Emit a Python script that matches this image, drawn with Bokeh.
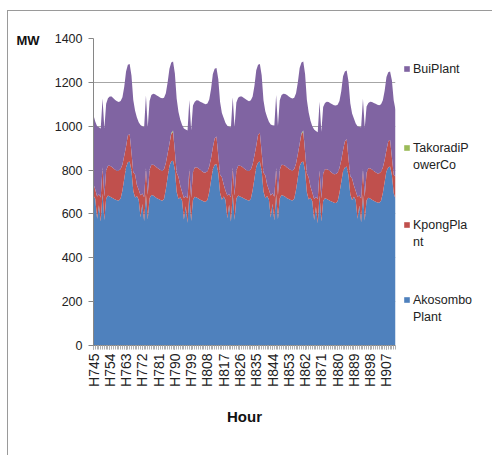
from bokeh.plotting import figure
from bokeh.layouts import row
from bokeh.models import (Range1d, FixedTicker, Legend, LegendItem, LinearAxis, ColumnDataSource)
from bokeh.embed import file_html
from bokeh.resources import INLINE
import math

hours = ["H%d" % h for h in range(745, 913)]

akosombo = [
    684,668,578,640,565,693,572,670,684,680,675,670,666,662,661,670,707,760,813,836,839,798,705,675,
    682,665,585,645,568,690,575,672,686,684,678,672,668,664,660,668,712,768,820,840,843,800,700,668,
    676,660,575,635,560,688,568,665,678,675,670,665,661,657,655,663,700,752,805,824,828,785,695,665,
    680,664,580,642,566,692,574,670,684,680,676,671,667,663,660,669,708,762,815,835,839,796,702,672,
    682,666,584,646,570,690,576,672,686,683,678,672,668,664,661,669,710,765,818,836,839,796,698,666,
    674,658,572,632,558,684,565,660,672,668,664,659,655,651,650,658,695,745,795,812,816,775,690,662,
    678,662,578,638,562,688,570,662,674,670,665,660,656,652,651,660,696,746,796,812,816,778,695,668,
]
kpong = [
    53,42,102,50,110,120,108,128,136,140,140,138,136,134,137,135,118,105,95,122,126,82,85,105,
    50,45,100,48,108,118,112,130,138,140,142,140,138,136,136,136,120,108,100,125,131,85,88,100,
    52,40,98,46,112,116,106,126,134,138,138,136,134,132,134,132,116,102,98,120,125,80,84,102,
    54,42,104,48,110,120,110,128,136,140,140,138,136,134,136,134,118,104,96,126,131,84,86,104,
    52,44,100,48,108,120,110,130,138,140,142,140,138,136,136,136,120,108,102,128,135,86,86,100,
    50,40,96,45,110,114,105,124,132,136,136,134,132,130,132,130,114,100,96,118,126,78,82,100,
    52,42,100,46,108,116,108,126,134,138,138,136,134,132,134,132,116,100,96,120,122,80,84,102,
]
takoradi = [
    0,0,0,0,0,0,0,0,0,0,0,0,0,0,0,0,0,0,0,0,0,0,0,0,
    0,0,0,0,0,0,0,0,0,0,0,0,0,0,0,0,0,0,0,4,6,0,0,0,
    0,0,0,0,0,0,0,0,0,0,0,0,0,0,0,0,0,0,0,0,0,0,0,0,
    0,0,0,0,0,0,0,0,0,0,0,0,0,0,0,0,0,0,0,0,0,0,0,0,
    0,0,0,0,0,0,0,0,0,0,0,0,0,0,0,0,0,0,0,4,7,0,0,0,
    0,0,0,0,0,0,0,0,0,0,0,0,0,0,0,0,0,0,0,0,0,0,0,0,
    0,0,0,0,0,0,0,0,0,0,0,0,0,0,0,0,0,0,0,0,0,0,0,0,
]
bui = [
    313,310,320,305,315,313,310,305,308,315,320,320,318,318,312,310,307,315,342,322,319,351,330,291,
    308,308,320,307,319,332,308,313,318,324,326,328,329,330,332,326,318,324,342,321,315,355,337,297,
    302,305,317,304,308,316,308,304,300,305,309,311,313,315,311,309,306,316,335,318,313,350,331,293,
    304,309,318,307,319,320,312,310,310,316,319,321,321,321,318,315,310,319,344,319,314,352,330,292,
    308,310,324,310,325,332,316,316,318,325,327,330,330,330,329,325,320,327,345,323,314,356,336,296,
    301,302,317,301,305,314,305,304,302,308,310,312,313,315,312,310,306,315,337,320,312,352,333,296,
    305,308,322,312,325,321,315,302,298,304,307,310,312,314,311,308,306,316,333,314,312,352,339,305,
]

series_keys = ["akosombo", "kpong", "takoradi", "bui"]
series_colors = ["#4f81bd", "#c0504d", "#9bbb59", "#8064a2"]
legend_lines = {
    "bui": ["BuiPlant"],
    "takoradi": ["TakoradiP", "owerCo"],
    "kpong": ["KpongPla", "nt"],
    "akosombo": ["Akosombo", "Plant"],
}
# vertical offset (px above the legend frame's bottom) of each legend entry block
legend_offsets = {"bui": 268, "takoradi": 172, "kpong": 95, "akosombo": 20}

y_ticks = [0, 200, 400, 600, 800, 1000, 1200, 1400]
unit_label = {1390: "MW"}
label_step = 9

FONT = "Liberation Sans"
AXIS_COLOR = "#868686"

src = ColumnDataSource(dict(x=list(range(len(hours))), akosombo=akosombo, kpong=kpong,
                            takoradi=takoradi, bui=bui))

p = figure(width=395, height=444, output_backend="svg", toolbar_location=None,
           x_range=Range1d(0, len(hours) - 1), y_range=Range1d(0, 1400),
           min_border_left=85, min_border_top=27, min_border_bottom=110, min_border_right=8)
p.outline_line_color = None
p.background_fill_color = "white"
p.border_fill_color = "white"

rs = p.varea_stack(series_keys, x="x", source=src, color=series_colors)

# axes
p.xgrid.visible = False
p.ygrid.grid_line_color = "#a6a6a6"
p.ygrid.grid_line_width = 1.2
p.yaxis.ticker = FixedTicker(ticks=y_ticks)
p.yaxis.minor_tick_line_color = None
p.yaxis.major_tick_in = 0
p.yaxis.major_tick_out = 5
p.yaxis.axis_line_color = AXIS_COLOR
p.yaxis.major_tick_line_color = AXIS_COLOR
p.yaxis.major_label_text_font = FONT
p.yaxis.major_label_text_font_size = "12.5px"
p.yaxis.major_label_text_color = "#222222"
p.yaxis.major_label_standoff = 6

# unit caption "MW" beside the 1400 tick, drawn as the single label of a bare axis
mw_axis = LinearAxis(ticker=FixedTicker(ticks=list(unit_label)),
                     major_label_overrides=unit_label,
                     axis_line_color=None, major_tick_line_color=None,
                     minor_tick_line_color=None, major_tick_in=0, major_tick_out=0,
                     major_label_standoff=12,
                     major_label_text_font=FONT, major_label_text_font_style="bold",
                     major_label_text_font_size="13px", major_label_text_color="#111111")
p.add_layout(mw_axis, "left")

major = list(range(0, len(hours), label_step))
p.xaxis.ticker = FixedTicker(ticks=major, minor_ticks=list(range(len(hours))))
p.xaxis.major_label_overrides = {i: hours[i] for i in major}
p.xaxis.major_label_orientation = math.pi / 2
p.xaxis.major_label_text_font = FONT
p.xaxis.major_label_text_font_size = "14px"
p.xaxis.major_label_text_color = "#222222"
p.xaxis.major_label_standoff = 4
p.xaxis.axis_line_color = AXIS_COLOR
p.xaxis.major_tick_line_color = AXIS_COLOR
p.xaxis.minor_tick_line_color = "#b0b0b0"
p.xaxis.major_tick_in = 0
p.xaxis.major_tick_out = 4
p.xaxis.minor_tick_in = 0
p.xaxis.minor_tick_out = 4
p.xaxis.axis_label = "Hour"
p.xaxis.axis_label_text_font = FONT
p.xaxis.axis_label_text_font_style = "bold"
p.xaxis.axis_label_text_font_size = "15px"
p.xaxis.axis_label_text_color = "#111111"
p.xaxis.axis_label_standoff = 18

# legend panel: a second figure whose frame holds one small legend per series
pl = figure(width=89, height=444, output_backend="svg", toolbar_location=None, title=None,
            x_range=Range1d(0, 1), y_range=Range1d(0, 1), min_border=0,
            x_axis_location=None, y_axis_location=None)
pl.outline_line_color = None
pl.grid.visible = False
pl.border_fill_color = "white"
pl.background_fill_color = "white"
# swatch renderers sit outside the legend figure's visible range; only their legend glyph shows
swatch = {}
for key, col in zip(series_keys, series_colors):
    swatch[key] = pl.varea(x=[2, 3], y1=[2, 2], y2=[3, 3], fill_color=col)
blank = pl.varea(x=[2, 3], y1=[2, 2], y2=[3, 3], fill_alpha=0)

for key in ["bui", "takoradi", "kpong", "akosombo"]:
    lines = legend_lines[key]
    items = [LegendItem(label=lines[0], renderers=[swatch[key]])]
    for extra in lines[1:]:
        items.append(LegendItem(label=extra, renderers=[blank]))
    lg = Legend(items=items, location=(0, legend_offsets[key]), margin=0, padding=0, spacing=0,
                glyph_width=7, glyph_height=7, label_standoff=3, label_height=17,
                label_text_font=FONT, label_text_font_size="12.5px",
                label_text_color="#222222",
                border_line_color=None, background_fill_alpha=0)
    pl.add_layout(lg)

layout = row(p, pl, styles={"margin-left": "7px", "margin-top": "10px",
                            "border-left": "1px solid #9a9a9a",
                            "border-top": "1px solid #9a9a9a"})

open("out.html", "w").write(file_html(layout, INLINE))
